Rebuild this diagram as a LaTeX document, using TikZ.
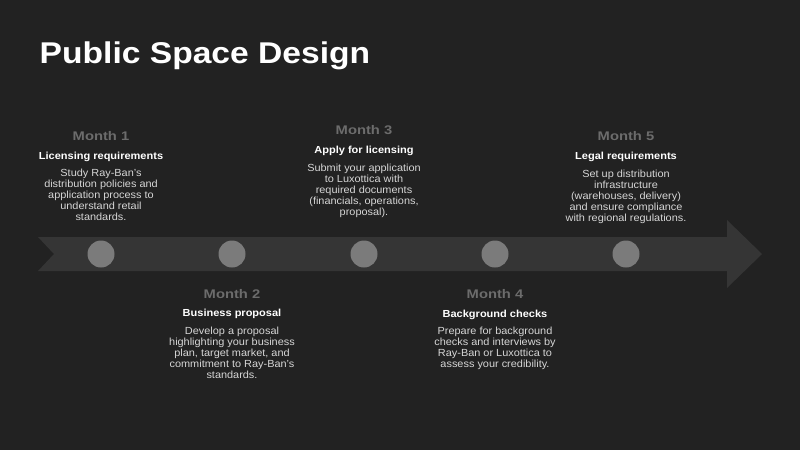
\documentclass[tikz,border=0pt]{standalone}
\usepackage{fontspec}
\setmainfont{Liberation Sans}[FakeStretch=1.06]
\newfontfamily\titlefont{Liberation Sans}[FakeStretch=1.12]
\newfontfamily\monthfont{Liberation Sans}[FakeStretch=1.18]
\newfontfamily\headfont{Liberation Sans}[FakeStretch=1.08]
\definecolor{bg}{HTML}{222222}
\definecolor{band}{HTML}{353535}
\definecolor{dot}{HTML}{7B7B7B}
\definecolor{monthc}{HTML}{6C6C6C}
\definecolor{bodyc}{HTML}{D6D6D6}
\tikzset{
  dotnode/.style={circle, fill=dot, minimum size=27pt, inner sep=0pt},
  monthlbl/.style={font=\monthfont\bfseries\fontsize{12.5}{14}\selectfont, text=monthc, inner sep=0pt, anchor=center},
  headlbl/.style={font=\headfont\bfseries\fontsize{10.2}{12}\selectfont, text=white, inner sep=0pt, anchor=center},
  bodytxt/.style={font=\fontsize{10.3}{11}\selectfont, text=bodyc, inner sep=0pt, align=center, anchor=north},
}
\newcommand{\fl}{\rule{0pt}{8pt}}
\begin{document}
\begin{tikzpicture}[x=1pt,y=-1pt]
\fill[bg] (0,0) rectangle (800,450);
\useasboundingbox (0,0) rectangle (800,450);
% title
\node[anchor=base west, inner sep=0pt, text=white, font=\titlefont\bfseries\fontsize{30}{34}\selectfont] (title) at (39.5,63.5) {Public Space Design};
% arrow
\fill[band] (38,237) -- (727,237) -- (727,220) -- (762,254) -- (727,288) -- (727,271) -- (38,271) -- (54,254) -- cycle;
% dots
\node[dotnode] (d1) at (101,254) {};
\node[dotnode] (d2) at (232,254) {};
\node[dotnode] (d3) at (364,254) {};
\node[dotnode] (d4) at (495,254) {};
\node[dotnode] (d5) at (626,254) {};
% Month 1
\node[monthlbl] (m1) at (101,135.7) {Month 1};
\node[headlbl] (h1) at (101,156.7) {Licensing requirements};
\node[bodytxt] (b1) at (101,168.3) {\fl Study Ray-Ban's\\distribution policies and\\application process to\\understand retail\\standards.};
% Month 3
\node[monthlbl] (m3) at (364,130) {Month 3};
\node[headlbl] (h3) at (364,151) {Apply for licensing};
\node[bodytxt] (b3) at (364,163) {\fl Submit your application\\to Luxottica with\\required documents\\(financials, operations,\\proposal).};
% Month 5
\node[monthlbl] (m5) at (626,135.7) {Month 5};
\node[headlbl] (h5) at (626,157.3) {Legal requirements};
\node[bodytxt] (b5) at (626,168.8) {\fl Set up distribution\\infrastructure\\(warehouses, delivery)\\and ensure compliance\\with regional regulations.};
% Month 2
\node[monthlbl] (m2) at (232,294) {Month 2};
\node[headlbl] (h2) at (232,314.3) {Business proposal};
\node[bodytxt] (b2) at (232,326.3) {\fl Develop a proposal\\highlighting your business\\plan, target market, and\\commitment to Ray-Ban's\\standards.};
% Month 4
\node[monthlbl] (m4) at (495,294) {Month 4};
\node[headlbl] (h4) at (495,314.7) {Background checks};
\node[bodytxt] (b4) at (495,326.3) {\fl Prepare for background\\checks and interviews by\\Ray-Ban or Luxottica to\\assess your credibility.};
\end{tikzpicture}
\end{document}
